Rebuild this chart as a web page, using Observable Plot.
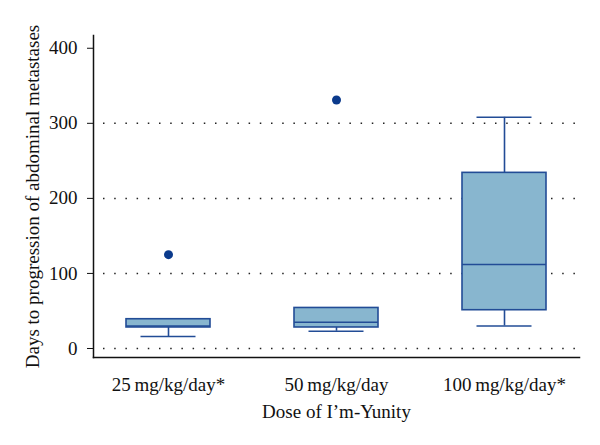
<!DOCTYPE html>
<html>
<head>
<meta charset="utf-8">
<script src="https://cdn.jsdelivr.net/npm/d3@7"></script>
<script src="https://cdn.jsdelivr.net/npm/@observablehq/plot@0.6"></script>
<style>
  html, body { margin: 0; padding: 0; background: #fff; }
</style>
</head>
<body>
<div id="chart"></div>
<script>
const groups = ["25\u2009mg/kg/day*", "50\u2009mg/kg/day", "100\u2009mg/kg/day*"];
const lowerWhisker = [16, 23, 30];
const q1 = [28, 28, 51];
const median = [30, 35, 112];
const q3 = [39, 54, 234];
const upperWhisker = [39, 54, 308];
const outlierGroup = ["25\u2009mg/kg/day*", "50\u2009mg/kg/day"];
const outlierValue = [125, 331];
const gridTicks = [0, 100, 200, 300];
const yTicks = [0, 100, 200, 300, 400];

const boxes = groups.map((g, i) => ({
  group: g, lo: lowerWhisker[i], q1: q1[i], med: median[i], q3: q3[i], hi: upperWhisker[i]
}));
const outliers = outlierGroup.map((g, i) => ({group: g, value: outlierValue[i]}));

const stroke = "#224c96";
const fill = "#88b6cf";
const serif = "Liberation Serif, DejaVu Serif, serif";

const chart = Plot.plot({
  width: 600,
  height: 445,
  marginLeft: 93,
  marginRight: 21,
  marginTop: 35,
  marginBottom: 88,
  style: {fontFamily: serif, fontSize: "17px", color: "#111", background: "#fff"},
  x: {domain: groups, paddingInner: 0.5, paddingOuter: 0.19},
  y: {domain: [-12, 417]},
  marks: [
    Plot.ruleY(gridTicks, {y: d => d, stroke: "#222", strokeWidth: 1.5, strokeDasharray: "1.5,9.7", insetLeft: 10, insetRight: 4}),
    Plot.ruleX(boxes, {x: "group", y1: "q3", y2: "hi", stroke, strokeWidth: 1.6}),
    Plot.ruleX(boxes, {x: "group", y1: "lo", y2: "q1", stroke, strokeWidth: 1.6}),
    Plot.tickY(boxes, {x: "group", y: "hi", stroke, strokeWidth: 1.6, insetLeft: 14.5, insetRight: 14.5}),
    Plot.tickY(boxes, {x: "group", y: "lo", stroke, strokeWidth: 1.6, insetLeft: 14.5, insetRight: 14.5}),
    Plot.barY(boxes, {x: "group", y1: "q1", y2: "q3", fill, stroke, strokeWidth: 1.6}),
    Plot.tickY(boxes, {x: "group", y: "med", stroke, strokeWidth: 1.6}),
    Plot.dot(outliers, {x: "group", y: "value", r: 4.5, fill: "#0b3a8c", stroke: "none"}),
    Plot.axisY({ticks: yTicks, tickSize: 6, tickPadding: 10, fontSize: 19, fontFamily: serif, fontVariant: "normal", label: null}),
    Plot.axisY({ticks: [], tickSize: 0, label: "Days to progression of abdominal metastases", labelAnchor: "center", labelArrow: "none", labelOffset: 68, fontSize: 19, fontFamily: serif}),
    Plot.axisX({tickSize: 0, tickPadding: 20, fontSize: 19, fontFamily: serif, label: null}),
    Plot.axisX({ticks: [], tickSize: 0, label: "Dose of I\u2019m-Yunity", labelAnchor: "center", labelArrow: "none", labelOffset: 60, fontSize: 19, fontFamily: serif}),
    Plot.frame({anchor: "left", stroke: "#111", strokeWidth: 1.5}),
    Plot.frame({anchor: "bottom", stroke: "#111", strokeWidth: 1.5})
  ]
});
document.getElementById("chart").appendChild(chart);
</script>
</body>
</html>
